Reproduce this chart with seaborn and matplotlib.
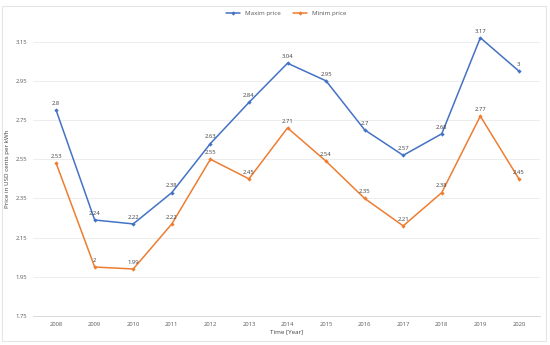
import pandas as pd
import matplotlib.pyplot as plt
import seaborn as sns
from matplotlib.patches import Rectangle

# Data
years = ["2008", "2009", "2010", "2011", "2012", "2013", "2014",
         "2015", "2016", "2017", "2018", "2019", "2020"]
max_price = [2.8, 2.24, 2.22, 2.38, 2.63, 2.84, 3.04, 2.95, 2.7, 2.57, 2.68, 3.17, 3]
min_price = [2.53, 2, 1.99, 2.22, 2.55, 2.45, 2.71, 2.54, 2.35, 2.21, 2.38, 2.77, 2.45]
series_names = ["Maxim price", "Minim price"]
y_ticks = [1.75, 1.95, 2.15, 2.35, 2.55, 2.75, 2.95, 3.15]

# Long format for seaborn
data = pd.DataFrame({
    "pos": list(range(len(years))) * 2,
    "value": max_price + min_price,
    "series": [series_names[0]] * len(years) + [series_names[1]] * len(years),
})

sns.set_style("white")
plt.rcParams["font.family"] = ["Open Sans", "DejaVu Sans"]

colors = {"Maxim price": "#4472C4", "Minim price": "#ED7D31"}

fig = plt.figure(figsize=(5.5, 3.45), dpi=100)
ax = fig.add_axes([0.06, 0.084, 0.922, 0.852])

sns.lineplot(data=data, x="pos", y="value", hue="series", palette=colors,
             marker="D", markersize=2.2, markeredgewidth=0, linewidth=1.1, ax=ax)

# Data labels
for name, vals in zip(series_names, [max_price, min_price]):
    for i, v in enumerate(vals):
        ax.annotate(f"{v:g}", (i, v), xytext=(0, 3), textcoords="offset points",
                    ha="center", va="bottom", fontsize=4.2, color="#404040")

ax.set_xlim(-0.6, len(years) - 0.45)
ax.set_ylim(1.75, 3.25)
ax.set_yticks(y_ticks)
ax.set_yticklabels([f"{t:.2f}" for t in y_ticks])
ax.set_xticks(range(len(years)))
ax.set_xticklabels(years)
ax.tick_params(axis="both", labelsize=4.2, colors="#595959", length=0, pad=4)
ax.grid(axis="y", color="#EDEDED", linewidth=0.7)
for s in ["top", "right", "left"]:
    ax.spines[s].set_visible(False)
ax.spines["bottom"].set_color("#D9D9D9")
ax.spines["bottom"].set_linewidth(0.7)

ax.set_xlabel("Time [Year]", fontsize=4.5, color="#404040", labelpad=2)
ax.set_ylabel("Price in USD cents per kWh", fontsize=4.5, color="#404040", labelpad=4)

ax.legend(loc="center", bbox_to_anchor=(0.5, 1.03), ncol=2, frameon=False,
          fontsize=4.5, handlelength=2.2, columnspacing=2, labelcolor="#595959")

# Chart-area border
fig.patches.append(Rectangle((0.004, 0.012), 0.988, 0.97, transform=fig.transFigure,
                             fill=False, edgecolor="#E5E5E5", linewidth=0.8))

plt.savefig("out.png", dpi=100)
